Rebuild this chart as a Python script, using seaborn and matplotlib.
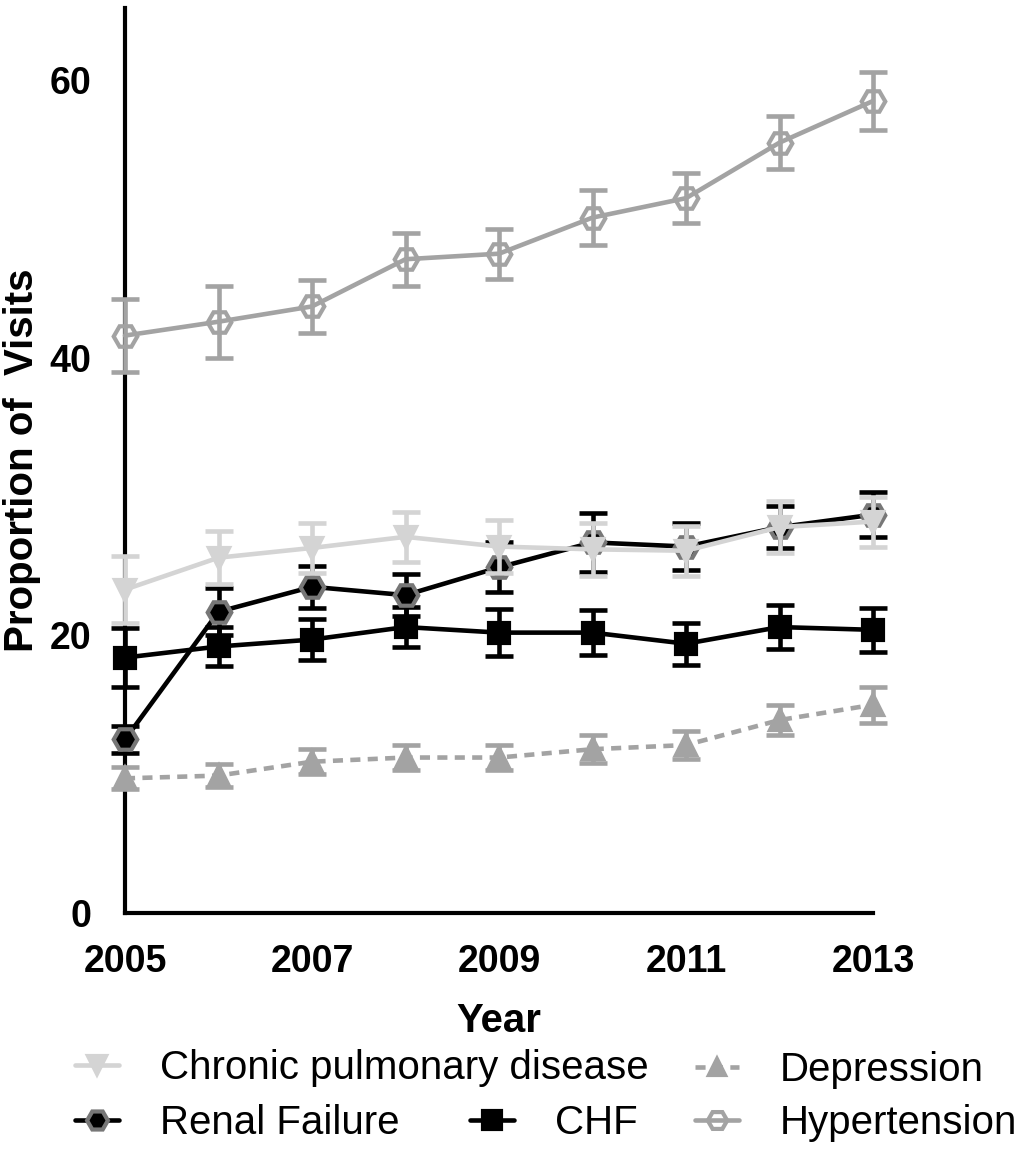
import matplotlib
matplotlib.use("Agg")
import matplotlib.pyplot as plt
import seaborn as sns
import numpy as np
import pandas as pd
from matplotlib.lines import Line2D

years = [2005, 2006, 2007, 2008, 2009, 2010, 2011, 2012, 2013]

hypertension = [41.6, 42.6, 43.7, 47.1, 47.5, 50.1, 51.5, 55.5, 58.5]
hypertension_err = [2.6, 2.6, 1.9, 1.9, 1.8, 2.0, 1.8, 1.9, 2.1]

copd = [23.3, 25.6, 26.3, 27.1, 26.4, 26.2, 26.1, 27.8, 28.2]
copd_err = [2.4, 1.9, 1.8, 1.8, 1.9, 1.9, 1.8, 1.9, 1.8]

renal = [12.5, 21.7, 23.5, 22.9, 24.9, 26.7, 26.4, 27.8, 28.7]
renal_err = [1.0, 1.7, 1.5, 1.5, 1.8, 2.1, 1.7, 1.5, 1.6]

chf = [18.4, 19.2, 19.7, 20.6, 20.2, 20.2, 19.4, 20.6, 20.4]
chf_err = [2.1, 1.4, 1.5, 1.45, 1.7, 1.6, 1.5, 1.6, 1.6]

depression = [9.7, 9.9, 10.9, 11.2, 11.2, 11.8, 12.1, 13.9, 15.0]
depression_err = [0.8, 0.8, 0.9, 0.9, 0.9, 1.0, 1.0, 1.1, 1.3]

labels = ["Chronic pulmonary disease", "Depression", "Renal Failure", "CHF", "Hypertension"]

sns.set_theme(style="white")
plt.rcParams['font.family'] = ['Liberation Sans', 'DejaVu Sans']
plt.rcParams['text.color'] = 'black'
plt.rcParams['axes.labelcolor'] = 'black'
plt.rcParams['xtick.color'] = 'black'
plt.rcParams['ytick.color'] = 'black'

fig = plt.figure(figsize=(10.3, 11.57), dpi=100)
ax = fig.add_axes([125/1030, 1 - 913/1157, (873-125)/1030, (913-8)/1157])

LW = 3.3
series = [
    # (values, errors, color, marker, mfc, mec, ms, linestyle, zorder)
    (hypertension, hypertension_err, "#a3a3a3", "H", "none", "#a3a3a3", 17, "-", 3),
    (depression, depression_err, "#a3a3a3", "^", "#a3a3a3", "#a3a3a3", 14, (0, (2.2, 1.6)), 3),
    (chf, chf_err, "#000000", "s", "#000000", "#000000", 15, "-", 4),
    (renal, renal_err, "#000000", "H", "#000000", "#777777", 17, "-", 5),
    (copd, copd_err, "#d4d4d4", "v", "#d4d4d4", "#d4d4d4", 15, "-", 6),
]

for vals, errs, col, mk, mfc, mec, ms, ls, z in series:
    df = pd.DataFrame({"Year": years, "Value": vals})
    ax.errorbar(years, vals, yerr=errs, fmt="none", ecolor=col, elinewidth=LW,
                capsize=10, capthick=LW, zorder=z, clip_on=False)
    sns.lineplot(data=df, x="Year", y="Value", ax=ax, color=col, linewidth=LW,
                 marker=mk, markersize=ms, markerfacecolor=mfc, markeredgecolor=mec,
                 markeredgewidth=3, linestyle=ls, zorder=z, clip_on=False)

ax.set_xlim(2005, 2013)
ax.set_ylim(0, 65.2)
ax.set_xticks([2005, 2007, 2009, 2011, 2013])
ax.set_yticks([0, 20, 40, 60])
for sp in ["top", "right"]:
    ax.spines[sp].set_visible(False)
for sp in ["left", "bottom"]:
    ax.spines[sp].set_linewidth(3)
    ax.spines[sp].set_color("black")
ax.tick_params(axis="both", which="major", length=9, width=3, color="black",
               labelsize=27, direction="out", labelcolor="black")
ax.tick_params(axis="y", pad=15)
ax.tick_params(axis="x", pad=13)
for t in ax.get_xticklabels() + ax.get_yticklabels():
    t.set_fontweight("bold")
ax.set_xlabel("Year", fontsize=29, fontweight="bold", labelpad=16, color="black")
ax.set_ylabel("Proportion of  Visits", fontsize=29, fontweight="bold", labelpad=6, color="black")
ax.grid(False)

def handle(col, mk, mfc, mec, ms, ls):
    return Line2D([], [], color=col, linewidth=LW, marker=mk, markersize=ms,
                  markerfacecolor=mfc, markeredgecolor=mec, markeredgewidth=3, linestyle=ls)

h_copd = handle("#d4d4d4", "v", "#d4d4d4", "#d4d4d4", 13, "-")
h_dep = handle("#a3a3a3", "^", "#a3a3a3", "#a3a3a3", 12, (0, (2.2, 1.6)))
h_ren = handle("#000000", "H", "#000000", "#777777", 15, "-")
h_chf = handle("#000000", "s", "#000000", "#000000", 13, "-")
h_hyp = handle("#a3a3a3", "H", "none", "#a3a3a3", 14, "-")

entries = [
    (h_copd, labels[0], 75, 1068),
    (h_dep, labels[1], 695, 1070),
    (h_ren, labels[2], 75, 1123),
    (h_chf, labels[3], 470, 1123),
    (h_hyp, labels[4], 695, 1123),
]
for h, lab, px, py in entries:
    leg = fig.legend(handles=[h], labels=[lab], loc="center left",
                     bbox_to_anchor=(px/1030, 1 - py/1157), frameon=False,
                     borderpad=0, borderaxespad=0, handlelength=1.1,
                     handletextpad=1.0, fontsize=29)
    for t in leg.get_texts():
        t.set_color("black")

fig.savefig("out.png", dpi=100)
